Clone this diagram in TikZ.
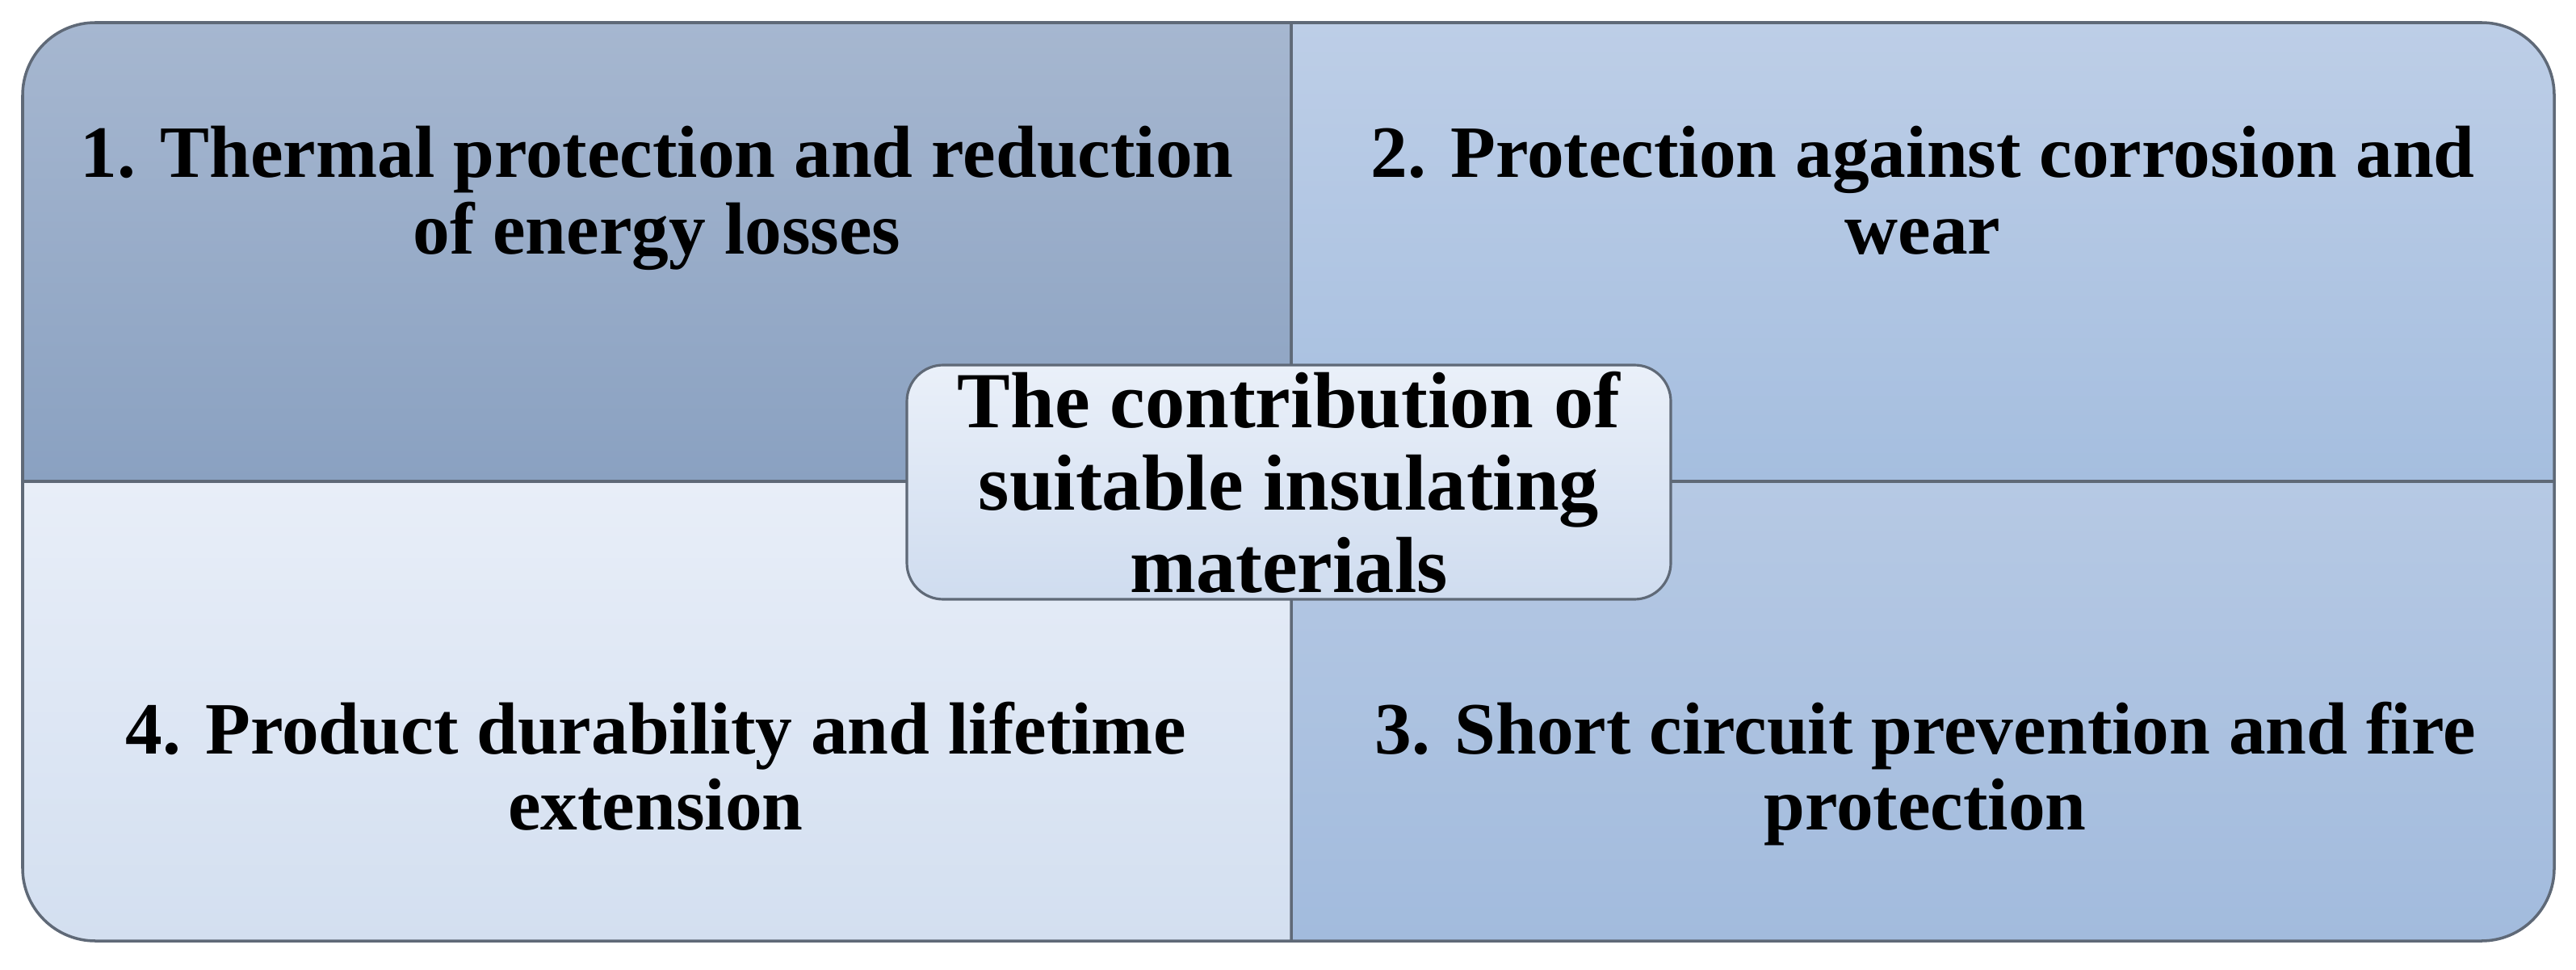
\documentclass[tikz,border=0pt]{standalone}
\usepackage{fontspec}
\setmainfont{Liberation Serif}
\usepackage{tikz}
\usetikzlibrary{positioning}
\definecolor{tlTop}{HTML}{A6B7D0}
\definecolor{tlBot}{HTML}{8AA1C1}
\definecolor{trTop}{HTML}{BDCEE7}
\definecolor{trBot}{HTML}{A5BEDF}
\definecolor{blTop}{HTML}{E8EEF8}
\definecolor{blBot}{HTML}{D3DFF0}
\definecolor{brTop}{HTML}{B6C9E4}
\definecolor{brBot}{HTML}{A2BBDD}
\definecolor{coreTop}{HTML}{EAF0F9}
\definecolor{coreBot}{HTML}{CFDCEF}
\definecolor{edgeGray}{HTML}{5F6977}
\newcommand*{\xMin}{0.28}
\newcommand*{\xMax}{31.63}
\newcommand*{\yMin}{0.35}
\newcommand*{\yMax}{11.72}
\newcommand*{\xMid}{15.99}
\newcommand*{\yMid}{6.04}
\newcommand*{\rOut}{0.9}
\tikzset{
    quad/.style={draw=edgeGray, line width=1pt},
    quadtext/.style={anchor=base, inner sep=0pt, font=\fontsize{26}{27}\selectfont\bfseries},
    corebox/.style={draw=edgeGray, line width=0.9pt, rounded corners=0.45cm,
        top color=coreTop, bottom color=coreBot, minimum width=9.46cm,
        minimum height=2.9cm, inner sep=0pt, align=center,
        font=\fontsize{28}{29}\selectfont\bfseries}
}
\begin{document}
\begin{tikzpicture}
    \useasboundingbox (0,0) rectangle (31.9,12);
    % four quadrants, only the outer corner rounded
    \draw [quad, top color=tlTop, bottom color=tlBot] (\xMin,\yMid) -- (\xMin,\yMax-\rOut) arc (180:90:\rOut) -- (\xMid,\yMax) -- (\xMid,\yMid) -- cycle;
    \draw [quad, top color=trTop, bottom color=trBot] (\xMid,\yMid) -- (\xMid,\yMax) -- (\xMax-\rOut,\yMax) arc (90:0:\rOut) -- (\xMax,\yMid) -- cycle;
    \draw [quad, top color=brTop, bottom color=brBot] (\xMid,\yMid) -- (\xMax,\yMid) -- (\xMax,\yMin+\rOut) arc (0:-90:\rOut) -- (\xMid,\yMin) -- cycle;
    \draw [quad, top color=blTop, bottom color=blBot] (\xMin,\yMid) -- (\xMid,\yMid) -- (\xMid,\yMin) -- (\xMin+\rOut,\yMin) arc (270:180:\rOut) -- cycle;

    \node [quadtext] (thermal) at (8.135,9.80) {\begin{tabular}[t]{c}1. Thermal protection and reduction\\ of energy losses\end{tabular}};
    \node [quadtext] (corrosion) at (23.81,9.80) {\begin{tabular}[t]{c}2. Protection against corrosion and\\ wear\end{tabular}};
    \node [quadtext] (fire) at (23.84,2.67) {\begin{tabular}[t]{c}3. Short circuit prevention and fire\\ protection\end{tabular}};
    \node [quadtext] (lifetime) at (8.12,2.67) {\begin{tabular}[t]{c}4. Product durability and lifetime\\ extension\end{tabular}};

    \node [corebox] (core) at (15.96,6.03) {The contribution of\\ suitable insulating\\ materials};
\end{tikzpicture}
\end{document}
